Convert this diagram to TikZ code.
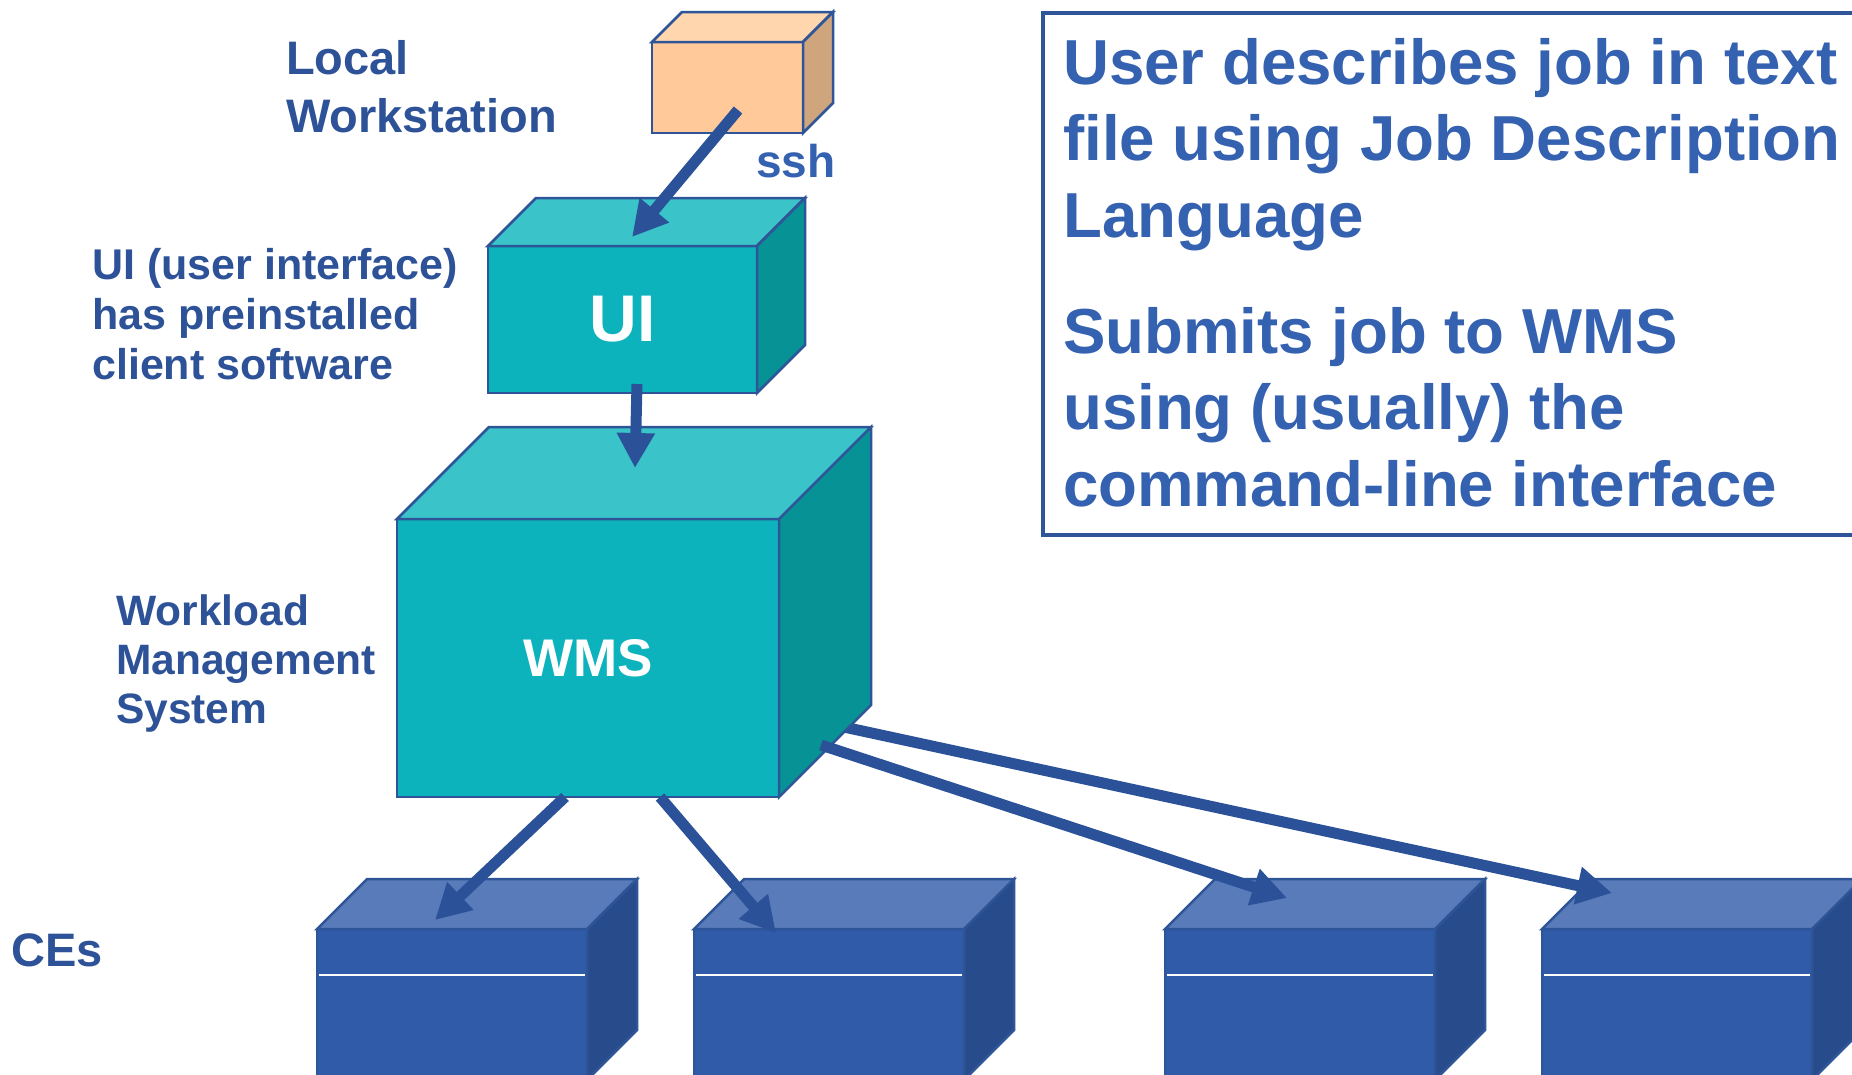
\documentclass[tikz,border=0pt]{standalone}
\usepackage{fontspec}
\setmainfont{Liberation Sans}
\usetikzlibrary{arrows.meta}

\definecolor{edgeblue}{HTML}{2E5597}
\definecolor{flowblue}{HTML}{2B5299}
\definecolor{labelblue}{HTML}{2D5298}
\definecolor{panelblue}{HTML}{3461B0}
\definecolor{peachfront}{HTML}{FFC999}
\definecolor{peachtop}{HTML}{FFD6AD}
\definecolor{peachside}{HTML}{CFA57E}
\definecolor{tealfront}{HTML}{0CB3BC}
\definecolor{tealtop}{HTML}{3AC3C9}
\definecolor{tealside}{HTML}{079396}
\definecolor{cefront}{HTML}{2F5BA8}
\definecolor{cetop}{HTML}{5A7BBA}
\definecolor{ceside}{HTML}{284B8B}

% top and right faces of a cuboid whose front face is node #1
% #2 = depth, #3 = top colour, #4 = side colour
\newcommand\cuboidfaces[4]{%
  \filldraw[face, fill=#3] (#1.north west) -- ++(#2,-#2)
    -- ([shift={(#2,-#2)}]#1.north east) -- (#1.north east) -- cycle;
  \filldraw[face, fill=#4] (#1.north east) -- ([shift={(#2,-#2)}]#1.north east)
    -- ([shift={(#2,-#2)}]#1.south east) -- (#1.south east) -- cycle;}

\begin{document}
\begin{tikzpicture}[x=1pt,y=-1pt,
  frontbox/.style={draw=edgeblue, line width=2.5pt, inner sep=0pt, outer sep=0pt,
    anchor=north west, line join=miter},
  face/.style={draw=edgeblue, line width=2.5pt, line join=miter},
  cebox/.style={frontbox, fill=cefront, minimum width=270pt, minimum height=151pt},
  flow/.style={draw=flowblue, line width=11pt, -{Triangle[width=36pt,length=35pt]}},
  label/.style={font=\fontsize{42.5}{49}\selectfont\bfseries, text=labelblue,
    align=left, anchor=base west, inner sep=0pt},
  paneltext/.style={font=\fontsize{63.6}{76.5}\selectfont\bfseries, text=panelblue,
    align=left, anchor=base west, inner sep=0pt}]
\useasboundingbox (0,0) rectangle (1852,1074);
\clip (0,0) rectangle (1852,1074);

% explanation panel (multi-line nodes are placed by their last baseline)
\node[draw=edgeblue, line width=4.5pt, inner sep=0pt, outer sep=0pt, anchor=north west,
  minimum width=840pt, minimum height=522pt] (panel) at (1043,13) {};
\node[paneltext] (para1) at (1063,237)
  {User describes job in text\\file using Job Description\\Language};
\node[paneltext] (para2) at (1063,506)
  {Submits job to WMS\\using (usually) the\\command-line interface};

% local workstation
\node[frontbox, fill=peachfront, minimum width=151pt, minimum height=91pt] (ws) at (652,42) {};
\cuboidfaces{ws}{30}{peachtop}{peachside}

% user interface
\node[frontbox, fill=tealfront, minimum width=269pt, minimum height=147pt,
  font=\fontsize{66}{66}\selectfont\bfseries, text=white] (ui) at (488,246) {UI};
\cuboidfaces{ui}{48}{tealtop}{tealside}

% computing elements
\node[cebox] (ce1) at (317,929) {};
\node[cebox] (ce2) at (694,929) {};
\node[cebox] (ce3) at (1165,929) {};
\node[cebox] (ce4) at (1542,929) {};
\foreach \c in {ce1,ce2,ce3,ce4}{
  \cuboidfaces{\c}{50}{cetop}{ceside}
  \draw[white, line width=1.5pt] ([shift={(2,46)}]\c.north west) -- ([shift={(-2,46)}]\c.north east);
}

% connector ends
\coordinate (ws-out)  at ([shift={(86,68)}]ws.north west);
\coordinate (ui-in)   at ([shift={(144,-9)}]ui.north west);
\coordinate (ui-out)  at ([shift={(149,138)}]ui.north west);
\coordinate (ce1-in)  at ([shift={(118,-9)}]ce1.north west);
\coordinate (ce2-in)  at ([shift={(82,4)}]ce2.north west);
\coordinate (ce3-in)  at ([shift={(122,-31)}]ce3.north west);
\coordinate (ce4-in)  at ([shift={(70,-36)}]ce4.north west);
\coordinate (wms-o4)  at (830,724);

% the far connector leaves from behind the WMS box
\draw[flow] (wms-o4) -- (ce4-in);

% workload management system
\node[frontbox, fill=tealfront, minimum width=382pt, minimum height=278pt,
  font=\fontsize{53}{53}\selectfont\bfseries, text=white] (wms) at (397,519) {WMS};
\cuboidfaces{wms}{92}{tealtop}{tealside}

\coordinate (wms-in) at ([shift={(238,-51)}]wms.north west);
\coordinate (wms-o1) at ([shift={(168,0)}]wms.south west);
\coordinate (wms-o2) at ([shift={(263,0)}]wms.south west);
\coordinate (wms-o3) at ([shift={(42,-52)}]wms.south east);

% connectors
\draw[flow] (ws-out) -- (ui-in);
\draw[flow] (ui-out) -- (wms-in);
\draw[flow] (wms-o1) -- (ce1-in);
\draw[flow] (wms-o2) -- (ce2-in);
\draw[flow] (wms-o3) -- (ce3-in);

% labels
\node[label, font=\fontsize{47}{58}\selectfont\bfseries] (lws) at (286,132) {Local\\Workstation};
\node[label, font=\fontsize{46}{46}\selectfont\bfseries, text=panelblue] (lssh) at (756,177) {ssh};
\node[label, font=\fontsize{43}{50}\selectfont\bfseries] (lui) at (92,379)
  {UI (user interface)\\has preinstalled\\client software};
\node[label] (lwms) at (116,723) {Workload\\Management\\System};
\node[label, font=\fontsize{47}{47}\selectfont\bfseries] (lce) at (11,966) {CEs};
\end{tikzpicture}
\end{document}
